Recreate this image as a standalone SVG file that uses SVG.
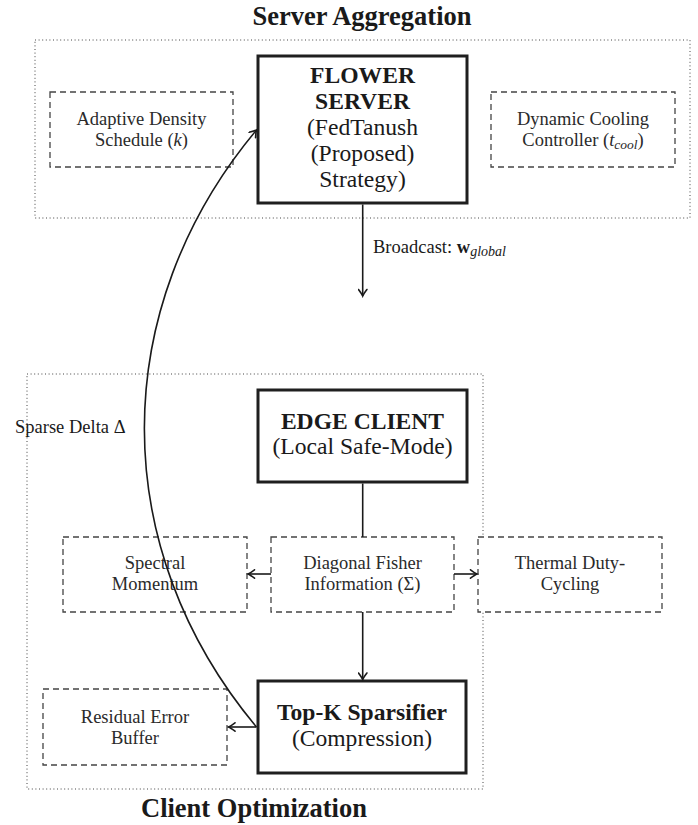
<svg xmlns="http://www.w3.org/2000/svg" width="698" height="825" viewBox="0 0 698 825">
<defs>
<style>
text{font-family:"Liberation Serif","Times New Roman",serif;fill:#1a1a1a}
.title{font-size:26.5px;font-weight:bold;text-anchor:middle}
.main{font-size:23.6px;text-anchor:middle}
.b{font-weight:bold}
.small{font-size:18.5px;text-anchor:middle;fill:#2a2a2a}
.lbl{font-size:18.5px}
.it{font-style:italic}
.group{fill:none;stroke:#444;stroke-width:1;stroke-dasharray:1 2.6}
.thick{fill:#fff;stroke:#1f1f1f;stroke-width:3}
.dash{fill:#fff;stroke:#444;stroke-width:1.3;stroke-dasharray:6 4}
.conn{fill:none;stroke:#1a1a1a;stroke-width:1.6}
</style>
<marker id="arr" viewBox="-8 -5 10 10" refX="0" refY="0" markerWidth="10" markerHeight="10" orient="auto" markerUnits="userSpaceOnUse">
<path d="M-6.5,-4.2 Q-2,-0.8 0,0 Q-2,0.8 -6.5,4.2" fill="none" stroke="#1a1a1a" stroke-width="1.6" stroke-linecap="round"/>
</marker>
</defs>

<g id="server-aggregation">
<rect class="group" x="35" y="40" width="655" height="178"/>
<text class="title" x="362" y="25">Server Aggregation</text>
</g>
<g id="client-optimization">
<rect class="group" x="27" y="374" width="456" height="415"/>
<text class="title" x="254" y="817">Client Optimization</text>
</g>

<g id="adaptive-density">
<rect class="dash" x="50" y="92" width="183" height="75"/>
<text class="small" x="141.5" y="124.5">Adaptive Density</text>
<text class="small" x="141.5" y="145.5">Schedule (<tspan class="it">k</tspan>)</text>
</g>

<g id="flower-server">
<rect class="thick" x="258" y="56" width="209" height="147"/>
<text class="main b" x="362.5" y="83">FLOWER</text>
<text class="main b" x="362.5" y="109">SERVER</text>
<text class="main" x="362.5" y="135">(FedTanush</text>
<text class="main" x="362.5" y="161">(Proposed)</text>
<text class="main" x="362.5" y="187">Strategy)</text>
</g>

<g id="dynamic-cooling">
<rect class="dash" x="491" y="92" width="184" height="75"/>
<text class="small" x="583" y="124.5">Dynamic Cooling</text>
<text class="small" x="583" y="145.5">Controller (<tspan class="it">t</tspan><tspan class="it" font-size="13.5" dy="3">cool</tspan><tspan dy="-3">)</tspan></text>
</g>

<g id="edge-client">
<rect class="thick" x="258" y="390" width="209" height="92"/>
<text class="main b" x="362.5" y="429">EDGE CLIENT</text>
<text class="main" x="362.5" y="454">(Local Safe-Mode)</text>
</g>

<g id="spectral-momentum">
<rect class="dash" x="63" y="537" width="184" height="75"/>
<text class="small" x="155" y="569">Spectral</text>
<text class="small" x="155" y="590">Momentum</text>
</g>

<g id="diagonal-fisher">
<rect class="dash" x="271" y="537" width="183" height="75"/>
<text class="small" x="362.5" y="569">Diagonal Fisher</text>
<text class="small" x="362.5" y="590">Information (Σ)</text>
</g>

<g id="thermal-duty">
<rect class="dash" x="478" y="537" width="184" height="75"/>
<text class="small" x="570" y="569">Thermal Duty-</text>
<text class="small" x="570" y="590">Cycling</text>
</g>

<g id="residual-error">
<rect class="dash" x="43" y="689" width="184" height="76"/>
<text class="small" x="135" y="723">Residual Error</text>
<text class="small" x="135" y="744">Buffer</text>
</g>

<g id="topk">
<rect class="thick" x="258" y="681" width="208" height="92"/>
<text class="main b" x="362" y="720">Top-K Sparsifier</text>
<text class="main" x="362" y="746">(Compression)</text>
</g>

<g id="connectors">
<line class="conn" x1="362.7" y1="204.5" x2="362.7" y2="296" marker-end="url(#arr)"/>
<text class="lbl" x="373" y="253">Broadcast: <tspan class="b">w</tspan><tspan class="it" font-size="14" dy="3">global</tspan></text>
<line class="conn" x1="362.7" y1="483.5" x2="362.7" y2="537"/>
<line class="conn" x1="271" y1="574" x2="248" y2="574" marker-end="url(#arr)"/>
<line class="conn" x1="454" y1="574" x2="477" y2="574" marker-end="url(#arr)"/>
<line class="conn" x1="362.7" y1="612" x2="362.7" y2="679.5" marker-end="url(#arr)"/>
<line class="conn" x1="256.5" y1="727" x2="228.5" y2="727" marker-end="url(#arr)"/>
<path class="conn" d="M256.5,727 C107,548 107,309 256.5,130" stroke-width="1.8" marker-end="url(#arr)"/>
<text class="lbl" x="15" y="433">Sparse Delta Δ</text>
</g>
</svg>
